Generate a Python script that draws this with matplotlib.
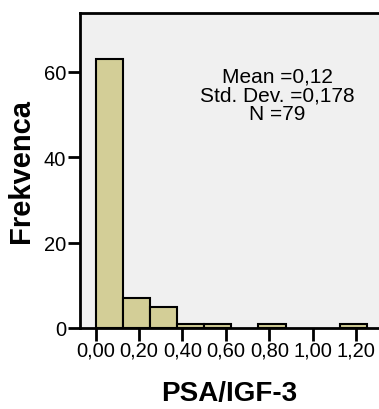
import numpy as np
import matplotlib
matplotlib.use("Agg")
import matplotlib.pyplot as plt

plt.rcParams['font.family'] = ['Liberation Sans', 'DejaVu Sans']

# histogram bins (width 0.125) and counts
bin_left = [0.0, 0.125, 0.25, 0.375, 0.5, 0.75, 1.125]
counts = [63, 7, 5, 1, 1, 1, 1]
bin_width = 0.125
x_ticks = [0.0, 0.2, 0.4, 0.6, 0.8, 1.0, 1.2]
x_tick_labels = ["0,00", "0,20", "0,40", "0,60", "0,80", "1,00", "1,20"]
y_ticks = [0, 20, 40, 60]
stats_text = "Mean =0,12\nStd. Dev. =0,178\nN =79"

fig = plt.figure(figsize=(3.79, 4.10), dpi=100)
ax = fig.add_axes([80/379, 1 - 329/410, 1 - 80/379, (329 - 14)/410])
ax.set_facecolor("#f0f0f0")

ax.bar(bin_left, counts, width=bin_width, align="edge",
       color="#d3ce97", edgecolor="black", linewidth=1.5)

ax.set_xlim(-0.072, 1.305)
ax.set_ylim(0, 73.8)
ax.set_xticks(x_ticks)
ax.set_xticklabels(x_tick_labels)
ax.set_yticks(y_ticks)
ax.tick_params(axis="both", direction="out", length=9, width=2,
               labelsize=14.5, pad=1)
ax.tick_params(axis="x", pad=0)

ax.spines["right"].set_visible(False)
for s in ["left", "top", "bottom"]:
    ax.spines[s].set_linewidth(2)

ax.set_ylabel("Frekvenca", fontsize=21, fontweight="bold", labelpad=6)
ax.set_xlabel("PSA/IGF-3", fontsize=20, fontweight="bold", labelpad=15)

ax.text((277 - 80) / 299, 1 - (96 - 14) / 315, stats_text,
        transform=ax.transAxes, fontsize=15,
        ha="center", va="center", linespacing=1.0)

fig.savefig("out.png", dpi=100)
